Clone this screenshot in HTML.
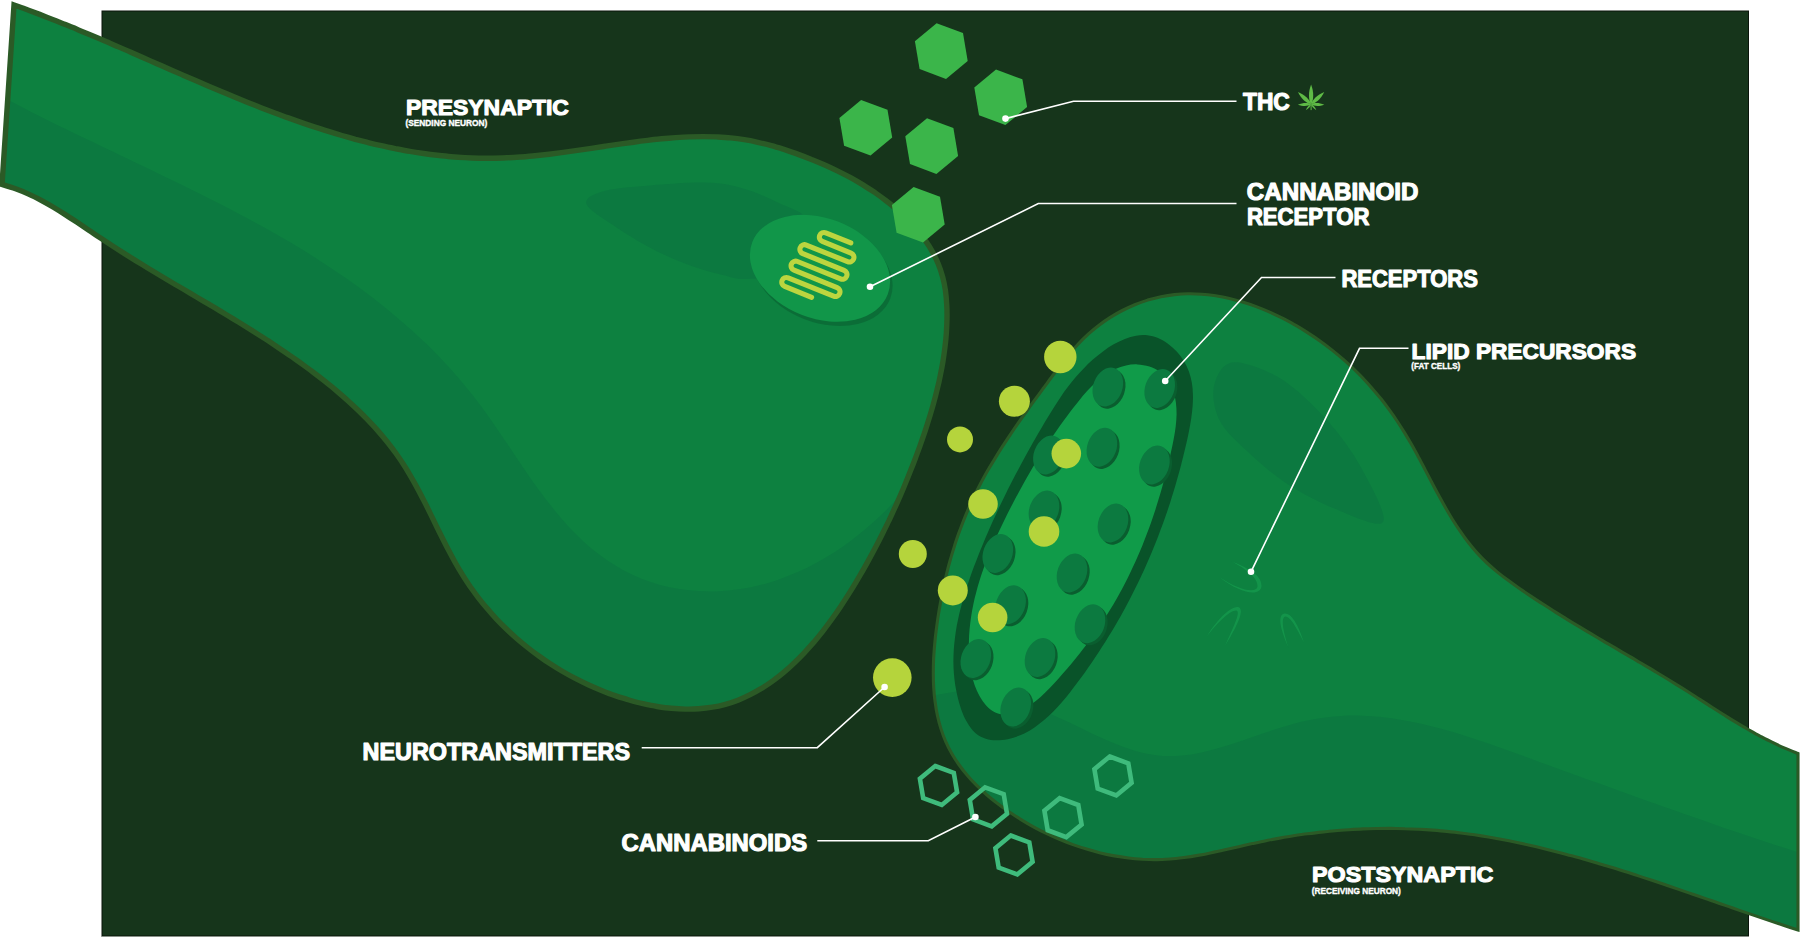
<!DOCTYPE html><html><head><meta charset="utf-8"><title>Synapse</title><style>html,body{margin:0;padding:0;background:#fff;overflow:hidden}svg{display:block}text{font-family:"Liberation Sans",sans-serif;font-weight:bold;fill:#fff}</style></head><body>
<svg width="1800" height="937" viewBox="0 0 1800 937">
<defs><clipPath id="cpre"><path d="M14.0,5.0C16.1,5.8 22.6,8.0 26.8,9.6C31.1,11.2 35.4,12.8 39.7,14.4C44.0,16.1 48.3,17.7 52.6,19.4C56.9,21.1 61.2,22.8 65.5,24.6C69.8,26.3 74.1,28.1 78.4,29.9C82.7,31.6 87.0,33.5 91.3,35.3C95.7,37.1 100.0,38.9 104.3,40.8C108.6,42.6 112.9,44.5 117.3,46.4C121.6,48.3 125.9,50.2 130.3,52.0C134.6,53.9 138.9,55.8 143.3,57.8C147.6,59.7 152.0,61.6 156.3,63.5C160.7,65.4 165.0,67.3 169.4,69.2C173.7,71.1 178.1,73.0 182.5,74.9C186.8,76.8 191.2,78.7 195.6,80.6C200.0,82.5 204.4,84.4 208.7,86.3C213.1,88.1 217.5,90.0 221.9,91.8C226.3,93.7 230.7,95.5 235.1,97.3C239.5,99.1 243.9,100.9 248.4,102.7C252.8,104.4 257.2,106.2 261.6,107.9C266.1,109.6 270.5,111.3 274.9,113.0C279.4,114.6 283.8,116.3 288.3,117.9C292.7,119.5 297.2,121.1 301.6,122.6C306.1,124.2 310.5,125.7 315.0,127.1C319.5,128.6 324.0,130.0 328.5,131.4C332.9,132.8 337.4,134.2 341.9,135.5C346.4,136.8 350.9,138.0 355.4,139.3C360.0,140.5 364.5,141.6 369.0,142.8C373.5,143.9 378.0,144.9 382.6,145.9C387.1,147.0 391.7,147.9 396.2,148.8C400.8,149.7 405.3,150.6 409.9,151.3C414.5,152.1 419.0,152.8 423.6,153.5C428.2,154.2 432.8,154.8 437.4,155.3C442.0,155.8 446.6,156.3 451.2,156.7C455.8,157.1 460.4,157.4 465.0,157.6C469.7,157.9 474.3,158.1 478.9,158.2C483.6,158.3 488.2,158.3 492.9,158.2C497.5,158.2 502.2,158.0 506.9,157.8C511.6,157.6 516.2,157.3 520.9,157.0C525.6,156.6 530.3,156.2 535.0,155.7C539.7,155.2 544.4,154.7 549.1,154.2C553.8,153.6 558.5,153.0 563.2,152.4C567.9,151.7 572.6,151.1 577.3,150.4C582.0,149.7 586.7,149.0 591.4,148.3C596.1,147.6 600.8,146.9 605.5,146.2C610.2,145.5 614.9,144.8 619.6,144.1C624.3,143.5 629.0,142.8 633.6,142.2C638.3,141.5 643.0,140.9 647.6,140.4C652.3,139.8 656.9,139.3 661.6,138.8C666.2,138.4 670.9,138.0 675.5,137.6C680.1,137.3 684.7,137.0 689.3,136.9C693.9,136.7 698.5,136.6 703.1,136.6C707.7,136.6 712.3,136.7 716.9,136.9C721.4,137.2 726.0,137.5 730.6,137.9C735.1,138.4 739.7,139.0 744.2,139.7C748.7,140.4 753.2,141.3 757.8,142.3C762.3,143.3 766.8,144.4 771.3,145.7C775.8,146.9 780.2,148.3 784.7,149.7C789.2,151.2 793.7,152.7 798.2,154.4C802.6,156.0 807.1,157.7 811.5,159.5C816.0,161.2 820.4,163.1 824.8,165.0C829.2,167.0 833.5,169.0 837.8,171.1C842.1,173.2 846.4,175.4 850.6,177.7C854.8,180.0 858.9,182.4 863.0,184.9C867.0,187.4 871.0,190.0 875.0,192.6C878.9,195.3 882.7,198.1 886.4,201.0C890.2,203.8 893.8,206.8 897.3,209.9C900.9,213.0 904.3,216.1 907.6,219.4C910.8,222.7 914.0,226.1 916.9,229.6C919.9,233.1 922.7,236.7 925.3,240.4C927.9,244.1 930.3,247.9 932.5,251.9C934.6,255.8 936.6,259.8 938.3,264.0C940.0,268.1 941.4,272.4 942.6,276.8C943.8,281.1 944.7,285.6 945.4,290.2C946.0,294.8 946.5,299.4 946.7,304.1C947.0,308.8 947.1,313.5 947.0,318.3C946.9,323.0 946.7,327.8 946.4,332.6C946.1,337.3 945.6,342.1 945.0,346.9C944.4,351.6 943.8,356.4 943.0,361.2C942.2,365.9 941.3,370.7 940.3,375.4C939.4,380.2 938.3,384.9 937.1,389.6C936.0,394.3 934.8,398.9 933.5,403.6C932.2,408.2 930.9,412.9 929.4,417.5C928.0,422.1 926.6,426.6 925.1,431.1C923.6,435.6 922.0,440.1 920.4,444.6C918.9,449.0 917.2,453.4 915.6,457.7C914.0,462.1 912.3,466.4 910.6,470.6C909.0,474.8 907.3,479.0 905.5,483.2C903.8,487.4 902.1,491.5 900.3,495.6C898.5,499.7 896.7,503.8 894.8,507.9C893.0,511.9 891.1,516.0 889.2,520.1C887.2,524.1 885.3,528.2 883.2,532.2C881.2,536.3 879.1,540.4 877.0,544.5C874.8,548.6 872.7,552.7 870.4,556.9C868.2,561.0 865.9,565.2 863.5,569.4C861.1,573.5 858.7,577.7 856.2,581.9C853.7,586.1 851.1,590.3 848.5,594.4C845.9,598.5 843.2,602.7 840.5,606.7C837.8,610.8 834.9,614.9 832.1,618.8C829.2,622.8 826.3,626.7 823.3,630.6C820.3,634.4 817.2,638.2 814.1,641.9C810.9,645.5 807.7,649.1 804.5,652.6C801.2,656.1 797.8,659.5 794.4,662.7C791.0,666.0 787.6,669.1 784.0,672.1C780.5,675.1 776.8,677.9 773.2,680.6C769.5,683.3 765.7,685.8 761.9,688.2C758.0,690.5 754.1,692.7 750.2,694.7C746.2,696.7 742.1,698.6 738.0,700.2C733.9,701.8 729.7,703.2 725.4,704.3C721.1,705.5 716.8,706.5 712.4,707.2C707.9,707.9 703.5,708.4 698.9,708.8C694.4,709.1 689.8,709.2 685.2,709.1C680.6,709.0 675.9,708.7 671.2,708.3C666.5,707.9 661.8,707.2 657.1,706.5C652.4,705.7 647.7,704.7 643.0,703.7C638.3,702.6 633.6,701.3 629.0,700.0C624.3,698.6 619.7,697.1 615.1,695.6C610.5,694.0 606.0,692.2 601.5,690.4C597.0,688.6 592.6,686.7 588.2,684.7C583.8,682.7 579.5,680.6 575.3,678.4C571.0,676.2 566.8,673.9 562.7,671.5C558.6,669.1 554.6,666.6 550.6,664.0C546.6,661.5 542.7,658.8 538.9,656.0C535.0,653.3 531.3,650.5 527.6,647.5C523.9,644.6 520.3,641.6 516.7,638.5C513.2,635.4 509.8,632.3 506.4,629.0C503.0,625.8 499.7,622.5 496.5,619.1C493.3,615.7 490.2,612.2 487.2,608.6C484.2,605.1 481.2,601.4 478.4,597.8C475.6,594.1 472.8,590.3 470.1,586.5C467.5,582.6 464.9,578.7 462.5,574.8C460.0,570.8 457.6,566.8 455.3,562.7C453.0,558.6 450.8,554.5 448.6,550.3C446.4,546.2 444.3,542.0 442.2,537.8C440.1,533.6 438.0,529.3 435.9,525.1C433.9,520.9 431.8,516.6 429.7,512.4C427.7,508.2 425.6,504.0 423.4,499.8C421.3,495.6 419.1,491.5 416.9,487.4C414.7,483.2 412.4,479.2 410.0,475.1C407.7,471.1 405.3,467.2 402.7,463.3C400.2,459.4 397.5,455.6 394.8,451.8C392.0,448.1 389.2,444.4 386.3,440.8C383.4,437.2 380.4,433.6 377.3,430.1C374.2,426.7 371.0,423.2 367.8,419.9C364.5,416.5 361.2,413.2 357.9,410.0C354.5,406.7 351.0,403.5 347.6,400.4C344.1,397.3 340.5,394.2 336.9,391.1C333.3,388.1 329.7,385.1 326.0,382.2C322.3,379.2 318.6,376.3 314.8,373.5C311.1,370.6 307.3,367.8 303.5,365.1C299.7,362.3 295.8,359.6 292.0,356.9C288.1,354.2 284.2,351.5 280.3,348.9C276.4,346.3 272.5,343.7 268.6,341.1C264.7,338.5 260.7,336.0 256.7,333.5C252.8,331.0 248.8,328.5 244.8,326.0C240.8,323.5 236.8,321.1 232.8,318.6C228.8,316.2 224.8,313.8 220.8,311.4C216.7,308.9 212.7,306.5 208.7,304.2C204.6,301.8 200.6,299.4 196.5,297.0C192.5,294.6 188.4,292.2 184.4,289.8C180.4,287.4 176.3,285.1 172.3,282.7C168.2,280.3 164.2,277.9 160.2,275.5C156.1,273.0 152.1,270.6 148.1,268.2C144.1,265.8 140.1,263.3 136.1,260.9C132.1,258.4 128.1,255.9 124.1,253.4C120.1,250.9 116.2,248.4 112.2,245.8C108.3,243.3 104.4,240.7 100.5,238.1C96.5,235.5 92.7,232.8 88.8,230.2C84.9,227.6 81.0,224.9 77.1,222.3C73.2,219.7 69.3,217.1 65.3,214.6C61.4,212.1 57.4,209.6 53.4,207.2C49.4,204.8 45.3,202.5 41.2,200.3C37.0,198.1 32.9,196.0 28.6,194.1C24.3,192.2 20.0,190.4 15.6,188.8C11.1,187.2 4.3,185.2 2.0,184.5Z"/></clipPath><clipPath id="cpost"><path d="M1798.0,930.0C1795.8,929.3 1789.3,927.2 1784.9,925.7C1780.5,924.3 1776.1,922.8 1771.7,921.4C1767.3,919.9 1762.9,918.4 1758.5,916.9C1754.1,915.4 1749.7,913.9 1745.3,912.4C1740.9,910.9 1736.5,909.3 1732.1,907.8C1727.6,906.3 1723.2,904.7 1718.8,903.2C1714.3,901.7 1709.9,900.1 1705.5,898.6C1701.0,897.0 1696.6,895.5 1692.1,894.0C1687.7,892.4 1683.2,890.9 1678.7,889.4C1674.3,887.9 1669.8,886.3 1665.3,884.8C1660.9,883.3 1656.4,881.8 1651.9,880.3C1647.4,878.8 1642.9,877.4 1638.4,875.9C1633.9,874.4 1629.4,873.0 1624.9,871.6C1620.4,870.1 1615.9,868.7 1611.4,867.3C1606.9,866.0 1602.4,864.6 1597.8,863.2C1593.3,861.9 1588.8,860.6 1584.3,859.3C1579.7,858.0 1575.2,856.7 1570.6,855.5C1566.1,854.3 1561.5,853.0 1557.0,851.9C1552.4,850.7 1547.9,849.6 1543.3,848.4C1538.7,847.3 1534.2,846.3 1529.6,845.2C1525.0,844.2 1520.4,843.2 1515.9,842.2C1511.3,841.3 1506.7,840.4 1502.1,839.5C1497.5,838.6 1492.9,837.8 1488.3,837.0C1483.7,836.3 1479.1,835.5 1474.5,834.8C1469.9,834.2 1465.2,833.5 1460.6,833.0C1456.0,832.4 1451.4,831.9 1446.7,831.4C1442.1,830.9 1437.5,830.5 1432.8,830.1C1428.2,829.8 1423.5,829.5 1418.9,829.2C1414.2,829.0 1409.6,828.8 1404.9,828.7C1400.3,828.5 1395.6,828.5 1391.0,828.4C1386.3,828.4 1381.7,828.4 1377.0,828.5C1372.4,828.6 1367.7,828.7 1363.1,828.9C1358.4,829.1 1353.7,829.4 1349.1,829.7C1344.4,830.0 1339.8,830.3 1335.2,830.7C1330.5,831.1 1325.9,831.6 1321.3,832.1C1316.6,832.6 1312.0,833.2 1307.4,833.8C1302.7,834.4 1298.1,835.1 1293.5,835.8C1288.9,836.5 1284.3,837.3 1279.7,838.1C1275.1,838.9 1270.6,839.8 1266.0,840.7C1261.4,841.6 1256.9,842.6 1252.3,843.6C1247.7,844.6 1243.2,845.6 1238.7,846.7C1234.1,847.7 1229.6,848.8 1225.0,849.8C1220.5,850.8 1216.0,851.8 1211.4,852.7C1206.9,853.7 1202.3,854.6 1197.8,855.4C1193.2,856.2 1188.7,856.9 1184.1,857.5C1179.5,858.1 1174.9,858.7 1170.3,859.0C1165.7,859.3 1161.1,859.6 1156.4,859.6C1151.8,859.7 1147.1,859.5 1142.4,859.3C1137.8,859.0 1133.1,858.6 1128.4,858.0C1123.7,857.4 1119.0,856.7 1114.4,855.9C1109.7,855.0 1105.1,854.0 1100.4,852.9C1095.8,851.8 1091.2,850.5 1086.6,849.1C1082.0,847.7 1077.4,846.2 1072.9,844.6C1068.4,843.0 1063.9,841.2 1059.4,839.3C1055.0,837.5 1050.6,835.5 1046.3,833.4C1041.9,831.3 1037.6,829.1 1033.4,826.8C1029.2,824.5 1025.1,822.1 1021.0,819.6C1016.9,817.1 1012.9,814.5 1009.0,811.8C1005.0,809.2 1001.2,806.4 997.5,803.5C993.7,800.7 990.1,797.7 986.6,794.7C983.1,791.6 979.7,788.5 976.4,785.2C973.2,782.0 970.1,778.7 967.2,775.2C964.2,771.8 961.4,768.2 958.8,764.5C956.2,760.9 953.8,757.1 951.6,753.2C949.4,749.4 947.4,745.4 945.6,741.3C943.8,737.2 942.3,733.0 940.9,728.6C939.5,724.3 938.4,719.9 937.4,715.4C936.4,710.9 935.7,706.3 935.1,701.7C934.4,697.1 934.0,692.3 933.7,687.6C933.4,682.9 933.3,678.0 933.3,673.2C933.3,668.4 933.4,663.5 933.6,658.7C933.9,653.8 934.2,648.9 934.7,644.1C935.1,639.2 935.6,634.4 936.3,629.5C936.9,624.7 937.6,619.9 938.3,615.1C939.1,610.3 939.9,605.6 940.8,600.9C941.6,596.2 942.6,591.6 943.6,587.0C944.6,582.4 945.6,577.8 946.7,573.3C947.8,568.8 949.0,564.3 950.3,559.8C951.5,555.4 952.9,551.0 954.3,546.6C955.6,542.2 957.1,537.9 958.6,533.6C960.2,529.3 961.8,525.0 963.5,520.7C965.2,516.5 966.9,512.3 968.7,508.1C970.6,503.9 972.5,499.7 974.5,495.6C976.5,491.5 978.6,487.4 980.7,483.3C982.9,479.2 985.1,475.1 987.4,471.1C989.7,467.1 992.1,463.1 994.6,459.1C997.0,455.1 999.5,451.1 1002.0,447.2C1004.6,443.2 1007.2,439.3 1009.8,435.4C1012.4,431.4 1015.1,427.5 1017.8,423.6C1020.5,419.7 1023.3,415.8 1026.1,412.0C1028.8,408.1 1031.6,404.2 1034.4,400.4C1037.3,396.5 1040.1,392.7 1042.9,388.8C1045.8,385.0 1048.6,381.1 1051.5,377.3C1054.3,373.5 1057.2,369.6 1060.1,365.8C1063.0,362.1 1065.9,358.3 1068.9,354.7C1071.9,351.0 1075.0,347.4 1078.2,344.0C1081.4,340.6 1084.8,337.3 1088.2,334.2C1091.7,331.1 1095.3,328.1 1099.0,325.3C1102.6,322.5 1106.4,319.8 1110.3,317.4C1114.2,314.9 1118.2,312.6 1122.3,310.5C1126.4,308.4 1130.5,306.5 1134.8,304.7C1139.0,303.0 1143.3,301.5 1147.6,300.1C1152.0,298.8 1156.4,297.6 1160.9,296.7C1165.3,295.8 1169.8,295.1 1174.4,294.6C1178.9,294.1 1183.4,293.8 1188.0,293.8C1192.6,293.7 1197.2,293.9 1201.8,294.2C1206.4,294.5 1211.1,295.1 1215.7,295.8C1220.3,296.5 1224.9,297.5 1229.5,298.5C1234.1,299.6 1238.7,300.9 1243.3,302.3C1247.8,303.6 1252.4,305.2 1256.9,306.9C1261.4,308.6 1265.9,310.5 1270.3,312.4C1274.7,314.4 1279.1,316.5 1283.5,318.7C1287.8,321.0 1292.1,323.3 1296.3,325.7C1300.5,328.2 1304.7,330.7 1308.7,333.4C1312.8,336.0 1316.8,338.7 1320.7,341.5C1324.6,344.3 1328.4,347.2 1332.1,350.1C1335.9,353.1 1339.5,356.1 1343.0,359.1C1346.5,362.2 1350.0,365.3 1353.3,368.5C1356.6,371.7 1359.9,374.9 1363.0,378.2C1366.2,381.6 1369.2,384.9 1372.2,388.4C1375.2,391.8 1378.1,395.3 1381.0,398.8C1383.8,402.4 1386.5,406.0 1389.2,409.7C1391.9,413.4 1394.5,417.1 1397.1,421.0C1399.6,424.8 1402.1,428.7 1404.5,432.6C1406.9,436.5 1409.3,440.6 1411.6,444.6C1413.9,448.7 1416.2,452.8 1418.4,457.0C1420.7,461.1 1422.9,465.4 1425.1,469.6C1427.3,473.8 1429.5,478.0 1431.7,482.2C1433.9,486.4 1436.1,490.6 1438.4,494.8C1440.7,499.0 1442.9,503.2 1445.3,507.3C1447.6,511.4 1450.0,515.5 1452.5,519.5C1455.0,523.5 1457.5,527.4 1460.2,531.2C1462.8,535.1 1465.5,538.8 1468.4,542.5C1471.2,546.1 1474.2,549.7 1477.3,553.1C1480.4,556.5 1483.6,559.8 1487.0,563.0C1490.3,566.1 1493.8,569.1 1497.4,572.1C1501.0,575.0 1504.7,577.8 1508.5,580.6C1512.2,583.4 1516.0,586.1 1519.9,588.7C1523.7,591.4 1527.6,594.0 1531.5,596.6C1535.4,599.2 1539.3,601.8 1543.3,604.3C1547.2,606.9 1551.2,609.4 1555.1,611.9C1559.1,614.4 1563.1,616.9 1567.1,619.3C1571.1,621.8 1575.1,624.2 1579.2,626.6C1583.2,629.1 1587.2,631.5 1591.3,633.9C1595.3,636.3 1599.4,638.7 1603.4,641.1C1607.5,643.5 1611.6,645.8 1615.6,648.2C1619.7,650.6 1623.7,653.0 1627.8,655.4C1631.9,657.7 1635.9,660.1 1640.0,662.5C1644.0,664.9 1648.1,667.3 1652.1,669.7C1656.1,672.1 1660.1,674.6 1664.2,677.0C1668.2,679.4 1672.2,681.9 1676.1,684.4C1680.1,686.8 1684.1,689.3 1688.0,691.8C1692.0,694.3 1695.9,696.9 1699.8,699.4C1703.8,701.9 1707.7,704.5 1711.6,707.0C1715.5,709.5 1719.5,712.0 1723.4,714.5C1727.4,717.0 1731.3,719.5 1735.3,721.9C1739.3,724.3 1743.3,726.7 1747.3,729.0C1751.4,731.3 1755.4,733.6 1759.5,735.8C1763.7,738.0 1767.8,740.2 1772.0,742.2C1776.2,744.3 1780.5,746.3 1784.8,748.1C1789.2,750.0 1795.8,752.6 1798.0,753.5Z"/></clipPath></defs>
<rect width="1800" height="937" fill="#fff"/>
<rect x="102" y="11" width="1646.5" height="925" fill="#16351b" stroke="#0a140b" stroke-width="1"/>
<rect x="101" y="936.4" width="1648" height="0.6" fill="#8a958b"/>
<path d="M14.0,5.0C16.1,5.8 22.6,8.0 26.8,9.6C31.1,11.2 35.4,12.8 39.7,14.4C44.0,16.1 48.3,17.7 52.6,19.4C56.9,21.1 61.2,22.8 65.5,24.6C69.8,26.3 74.1,28.1 78.4,29.9C82.7,31.6 87.0,33.5 91.3,35.3C95.7,37.1 100.0,38.9 104.3,40.8C108.6,42.6 112.9,44.5 117.3,46.4C121.6,48.3 125.9,50.2 130.3,52.0C134.6,53.9 138.9,55.8 143.3,57.8C147.6,59.7 152.0,61.6 156.3,63.5C160.7,65.4 165.0,67.3 169.4,69.2C173.7,71.1 178.1,73.0 182.5,74.9C186.8,76.8 191.2,78.7 195.6,80.6C200.0,82.5 204.4,84.4 208.7,86.3C213.1,88.1 217.5,90.0 221.9,91.8C226.3,93.7 230.7,95.5 235.1,97.3C239.5,99.1 243.9,100.9 248.4,102.7C252.8,104.4 257.2,106.2 261.6,107.9C266.1,109.6 270.5,111.3 274.9,113.0C279.4,114.6 283.8,116.3 288.3,117.9C292.7,119.5 297.2,121.1 301.6,122.6C306.1,124.2 310.5,125.7 315.0,127.1C319.5,128.6 324.0,130.0 328.5,131.4C332.9,132.8 337.4,134.2 341.9,135.5C346.4,136.8 350.9,138.0 355.4,139.3C360.0,140.5 364.5,141.6 369.0,142.8C373.5,143.9 378.0,144.9 382.6,145.9C387.1,147.0 391.7,147.9 396.2,148.8C400.8,149.7 405.3,150.6 409.9,151.3C414.5,152.1 419.0,152.8 423.6,153.5C428.2,154.2 432.8,154.8 437.4,155.3C442.0,155.8 446.6,156.3 451.2,156.7C455.8,157.1 460.4,157.4 465.0,157.6C469.7,157.9 474.3,158.1 478.9,158.2C483.6,158.3 488.2,158.3 492.9,158.2C497.5,158.2 502.2,158.0 506.9,157.8C511.6,157.6 516.2,157.3 520.9,157.0C525.6,156.6 530.3,156.2 535.0,155.7C539.7,155.2 544.4,154.7 549.1,154.2C553.8,153.6 558.5,153.0 563.2,152.4C567.9,151.7 572.6,151.1 577.3,150.4C582.0,149.7 586.7,149.0 591.4,148.3C596.1,147.6 600.8,146.9 605.5,146.2C610.2,145.5 614.9,144.8 619.6,144.1C624.3,143.5 629.0,142.8 633.6,142.2C638.3,141.5 643.0,140.9 647.6,140.4C652.3,139.8 656.9,139.3 661.6,138.8C666.2,138.4 670.9,138.0 675.5,137.6C680.1,137.3 684.7,137.0 689.3,136.9C693.9,136.7 698.5,136.6 703.1,136.6C707.7,136.6 712.3,136.7 716.9,136.9C721.4,137.2 726.0,137.5 730.6,137.9C735.1,138.4 739.7,139.0 744.2,139.7C748.7,140.4 753.2,141.3 757.8,142.3C762.3,143.3 766.8,144.4 771.3,145.7C775.8,146.9 780.2,148.3 784.7,149.7C789.2,151.2 793.7,152.7 798.2,154.4C802.6,156.0 807.1,157.7 811.5,159.5C816.0,161.2 820.4,163.1 824.8,165.0C829.2,167.0 833.5,169.0 837.8,171.1C842.1,173.2 846.4,175.4 850.6,177.7C854.8,180.0 858.9,182.4 863.0,184.9C867.0,187.4 871.0,190.0 875.0,192.6C878.9,195.3 882.7,198.1 886.4,201.0C890.2,203.8 893.8,206.8 897.3,209.9C900.9,213.0 904.3,216.1 907.6,219.4C910.8,222.7 914.0,226.1 916.9,229.6C919.9,233.1 922.7,236.7 925.3,240.4C927.9,244.1 930.3,247.9 932.5,251.9C934.6,255.8 936.6,259.8 938.3,264.0C940.0,268.1 941.4,272.4 942.6,276.8C943.8,281.1 944.7,285.6 945.4,290.2C946.0,294.8 946.5,299.4 946.7,304.1C947.0,308.8 947.1,313.5 947.0,318.3C946.9,323.0 946.7,327.8 946.4,332.6C946.1,337.3 945.6,342.1 945.0,346.9C944.4,351.6 943.8,356.4 943.0,361.2C942.2,365.9 941.3,370.7 940.3,375.4C939.4,380.2 938.3,384.9 937.1,389.6C936.0,394.3 934.8,398.9 933.5,403.6C932.2,408.2 930.9,412.9 929.4,417.5C928.0,422.1 926.6,426.6 925.1,431.1C923.6,435.6 922.0,440.1 920.4,444.6C918.9,449.0 917.2,453.4 915.6,457.7C914.0,462.1 912.3,466.4 910.6,470.6C909.0,474.8 907.3,479.0 905.5,483.2C903.8,487.4 902.1,491.5 900.3,495.6C898.5,499.7 896.7,503.8 894.8,507.9C893.0,511.9 891.1,516.0 889.2,520.1C887.2,524.1 885.3,528.2 883.2,532.2C881.2,536.3 879.1,540.4 877.0,544.5C874.8,548.6 872.7,552.7 870.4,556.9C868.2,561.0 865.9,565.2 863.5,569.4C861.1,573.5 858.7,577.7 856.2,581.9C853.7,586.1 851.1,590.3 848.5,594.4C845.9,598.5 843.2,602.7 840.5,606.7C837.8,610.8 834.9,614.9 832.1,618.8C829.2,622.8 826.3,626.7 823.3,630.6C820.3,634.4 817.2,638.2 814.1,641.9C810.9,645.5 807.7,649.1 804.5,652.6C801.2,656.1 797.8,659.5 794.4,662.7C791.0,666.0 787.6,669.1 784.0,672.1C780.5,675.1 776.8,677.9 773.2,680.6C769.5,683.3 765.7,685.8 761.9,688.2C758.0,690.5 754.1,692.7 750.2,694.7C746.2,696.7 742.1,698.6 738.0,700.2C733.9,701.8 729.7,703.2 725.4,704.3C721.1,705.5 716.8,706.5 712.4,707.2C707.9,707.9 703.5,708.4 698.9,708.8C694.4,709.1 689.8,709.2 685.2,709.1C680.6,709.0 675.9,708.7 671.2,708.3C666.5,707.9 661.8,707.2 657.1,706.5C652.4,705.7 647.7,704.7 643.0,703.7C638.3,702.6 633.6,701.3 629.0,700.0C624.3,698.6 619.7,697.1 615.1,695.6C610.5,694.0 606.0,692.2 601.5,690.4C597.0,688.6 592.6,686.7 588.2,684.7C583.8,682.7 579.5,680.6 575.3,678.4C571.0,676.2 566.8,673.9 562.7,671.5C558.6,669.1 554.6,666.6 550.6,664.0C546.6,661.5 542.7,658.8 538.9,656.0C535.0,653.3 531.3,650.5 527.6,647.5C523.9,644.6 520.3,641.6 516.7,638.5C513.2,635.4 509.8,632.3 506.4,629.0C503.0,625.8 499.7,622.5 496.5,619.1C493.3,615.7 490.2,612.2 487.2,608.6C484.2,605.1 481.2,601.4 478.4,597.8C475.6,594.1 472.8,590.3 470.1,586.5C467.5,582.6 464.9,578.7 462.5,574.8C460.0,570.8 457.6,566.8 455.3,562.7C453.0,558.6 450.8,554.5 448.6,550.3C446.4,546.2 444.3,542.0 442.2,537.8C440.1,533.6 438.0,529.3 435.9,525.1C433.9,520.9 431.8,516.6 429.7,512.4C427.7,508.2 425.6,504.0 423.4,499.8C421.3,495.6 419.1,491.5 416.9,487.4C414.7,483.2 412.4,479.2 410.0,475.1C407.7,471.1 405.3,467.2 402.7,463.3C400.2,459.4 397.5,455.6 394.8,451.8C392.0,448.1 389.2,444.4 386.3,440.8C383.4,437.2 380.4,433.6 377.3,430.1C374.2,426.7 371.0,423.2 367.8,419.9C364.5,416.5 361.2,413.2 357.9,410.0C354.5,406.7 351.0,403.5 347.6,400.4C344.1,397.3 340.5,394.2 336.9,391.1C333.3,388.1 329.7,385.1 326.0,382.2C322.3,379.2 318.6,376.3 314.8,373.5C311.1,370.6 307.3,367.8 303.5,365.1C299.7,362.3 295.8,359.6 292.0,356.9C288.1,354.2 284.2,351.5 280.3,348.9C276.4,346.3 272.5,343.7 268.6,341.1C264.7,338.5 260.7,336.0 256.7,333.5C252.8,331.0 248.8,328.5 244.8,326.0C240.8,323.5 236.8,321.1 232.8,318.6C228.8,316.2 224.8,313.8 220.8,311.4C216.7,308.9 212.7,306.5 208.7,304.2C204.6,301.8 200.6,299.4 196.5,297.0C192.5,294.6 188.4,292.2 184.4,289.8C180.4,287.4 176.3,285.1 172.3,282.7C168.2,280.3 164.2,277.9 160.2,275.5C156.1,273.0 152.1,270.6 148.1,268.2C144.1,265.8 140.1,263.3 136.1,260.9C132.1,258.4 128.1,255.9 124.1,253.4C120.1,250.9 116.2,248.4 112.2,245.8C108.3,243.3 104.4,240.7 100.5,238.1C96.5,235.5 92.7,232.8 88.8,230.2C84.9,227.6 81.0,224.9 77.1,222.3C73.2,219.7 69.3,217.1 65.3,214.6C61.4,212.1 57.4,209.6 53.4,207.2C49.4,204.8 45.3,202.5 41.2,200.3C37.0,198.1 32.9,196.0 28.6,194.1C24.3,192.2 20.0,190.4 15.6,188.8C11.1,187.2 4.3,185.2 2.0,184.5Z" fill="#0d8140"/>
<g clip-path="url(#cpre)"><path d="M-5.0,93.0C-2.1,94.6 6.7,99.2 12.5,102.3C18.4,105.4 24.3,108.4 30.2,111.5C36.2,114.5 42.1,117.5 48.1,120.4C54.1,123.4 60.1,126.4 66.1,129.3C72.2,132.3 78.2,135.2 84.2,138.1C90.3,141.0 96.4,143.9 102.4,146.8C108.5,149.7 114.6,152.6 120.7,155.5C126.8,158.4 132.9,161.3 138.9,164.2C145.0,167.1 151.1,170.0 157.2,172.9C163.3,175.9 169.4,178.8 175.4,181.8C181.5,184.7 187.6,187.7 193.6,190.7C199.7,193.7 205.7,196.7 211.7,199.8C217.7,202.8 223.7,205.9 229.7,209.0C235.7,212.1 241.6,215.2 247.6,218.4C253.5,221.6 259.4,224.8 265.2,228.1C271.1,231.4 276.9,234.7 282.7,238.1C288.5,241.4 294.3,244.8 300.0,248.3C305.7,251.8 311.4,255.3 317.1,258.9C322.7,262.5 328.3,266.1 333.8,269.9C339.3,273.6 344.8,277.4 350.3,281.2C355.7,285.1 361.1,289.0 366.4,293.0C371.7,297.0 377.0,301.0 382.2,305.2C387.4,309.3 392.5,313.6 397.5,317.9C402.6,322.2 407.6,326.5 412.5,331.0C417.4,335.5 422.2,340.0 427.0,344.6C431.7,349.3 436.4,354.0 441.0,358.8C445.6,363.6 450.1,368.5 454.5,373.5C458.9,378.5 463.2,383.6 467.4,388.8C471.7,394.0 475.8,399.3 479.8,404.6C483.9,410.0 487.8,415.5 491.6,421.0C495.5,426.6 499.3,432.2 503.1,437.8C506.9,443.4 510.7,449.1 514.5,454.8C518.3,460.4 522.1,466.1 526.0,471.8C529.8,477.4 533.7,483.0 537.8,488.5C541.8,494.0 545.9,499.5 550.1,504.8C554.3,510.2 558.6,515.4 563.1,520.4C567.5,525.5 572.1,530.4 576.8,535.1C581.5,539.8 586.4,544.3 591.4,548.5C596.5,552.7 601.7,556.7 607.1,560.3C612.5,564.0 618.0,567.4 623.8,570.5C629.5,573.5 635.4,576.3 641.5,578.7C647.5,581.1 653.7,583.2 660.0,584.9C666.3,586.6 672.8,588.0 679.3,589.0C685.7,590.0 692.3,590.7 698.9,591.1C705.5,591.4 712.2,591.5 718.9,591.2C725.5,590.9 732.2,590.2 738.8,589.3C745.4,588.4 752.0,587.1 758.4,585.5C764.9,584.0 771.4,582.1 777.7,579.9C784.1,577.8 790.3,575.3 796.5,572.6C802.7,570.0 808.8,567.0 814.8,563.8C820.7,560.6 826.6,557.1 832.4,553.5C838.2,549.8 843.8,545.9 849.3,541.9C854.9,537.8 860.3,533.5 865.5,529.1C870.8,524.7 875.9,520.0 880.9,515.3C885.9,510.5 890.7,505.6 895.4,500.5C900.1,495.5 904.6,490.3 909.0,485.0C913.3,479.7 917.5,474.3 921.5,468.8C925.5,463.3 929.3,457.7 932.9,452.1C936.5,446.4 940.0,440.7 943.2,434.9C946.4,429.2 949.4,423.4 952.2,417.5C955.0,411.7 958.7,402.9 960.0,400.0L960,760L-20,760Z" fill="#0c7940"/><path d="M586.3,203.5C584.8,197.6 594.6,193.8 605.3,190.8C616.0,187.8 634.1,186.8 650.7,185.4C667.3,184.0 689.9,182.2 705.0,182.6C720.1,183.0 729.3,184.7 741.4,188.0C753.5,191.3 766.3,196.9 777.7,202.6C789.1,208.3 803.0,210.8 810.0,222.0C817.0,233.2 829.9,260.5 820.0,270.0C810.1,279.5 766.7,278.0 750.5,278.8C734.3,279.6 733.6,277.4 723.0,275.0C712.4,272.6 699.0,268.8 687.0,264.3C675.0,259.8 662.8,254.4 650.7,248.0C638.6,241.6 625.1,233.4 614.4,226.0C603.7,218.6 587.8,209.4 586.3,203.5Z" fill="#0c7940"/></g>
<path d="M14.0,5.0C16.1,5.8 22.6,8.0 26.8,9.6C31.1,11.2 35.4,12.8 39.7,14.4C44.0,16.1 48.3,17.7 52.6,19.4C56.9,21.1 61.2,22.8 65.5,24.6C69.8,26.3 74.1,28.1 78.4,29.9C82.7,31.6 87.0,33.5 91.3,35.3C95.7,37.1 100.0,38.9 104.3,40.8C108.6,42.6 112.9,44.5 117.3,46.4C121.6,48.3 125.9,50.2 130.3,52.0C134.6,53.9 138.9,55.8 143.3,57.8C147.6,59.7 152.0,61.6 156.3,63.5C160.7,65.4 165.0,67.3 169.4,69.2C173.7,71.1 178.1,73.0 182.5,74.9C186.8,76.8 191.2,78.7 195.6,80.6C200.0,82.5 204.4,84.4 208.7,86.3C213.1,88.1 217.5,90.0 221.9,91.8C226.3,93.7 230.7,95.5 235.1,97.3C239.5,99.1 243.9,100.9 248.4,102.7C252.8,104.4 257.2,106.2 261.6,107.9C266.1,109.6 270.5,111.3 274.9,113.0C279.4,114.6 283.8,116.3 288.3,117.9C292.7,119.5 297.2,121.1 301.6,122.6C306.1,124.2 310.5,125.7 315.0,127.1C319.5,128.6 324.0,130.0 328.5,131.4C332.9,132.8 337.4,134.2 341.9,135.5C346.4,136.8 350.9,138.0 355.4,139.3C360.0,140.5 364.5,141.6 369.0,142.8C373.5,143.9 378.0,144.9 382.6,145.9C387.1,147.0 391.7,147.9 396.2,148.8C400.8,149.7 405.3,150.6 409.9,151.3C414.5,152.1 419.0,152.8 423.6,153.5C428.2,154.2 432.8,154.8 437.4,155.3C442.0,155.8 446.6,156.3 451.2,156.7C455.8,157.1 460.4,157.4 465.0,157.6C469.7,157.9 474.3,158.1 478.9,158.2C483.6,158.3 488.2,158.3 492.9,158.2C497.5,158.2 502.2,158.0 506.9,157.8C511.6,157.6 516.2,157.3 520.9,157.0C525.6,156.6 530.3,156.2 535.0,155.7C539.7,155.2 544.4,154.7 549.1,154.2C553.8,153.6 558.5,153.0 563.2,152.4C567.9,151.7 572.6,151.1 577.3,150.4C582.0,149.7 586.7,149.0 591.4,148.3C596.1,147.6 600.8,146.9 605.5,146.2C610.2,145.5 614.9,144.8 619.6,144.1C624.3,143.5 629.0,142.8 633.6,142.2C638.3,141.5 643.0,140.9 647.6,140.4C652.3,139.8 656.9,139.3 661.6,138.8C666.2,138.4 670.9,138.0 675.5,137.6C680.1,137.3 684.7,137.0 689.3,136.9C693.9,136.7 698.5,136.6 703.1,136.6C707.7,136.6 712.3,136.7 716.9,136.9C721.4,137.2 726.0,137.5 730.6,137.9C735.1,138.4 739.7,139.0 744.2,139.7C748.7,140.4 753.2,141.3 757.8,142.3C762.3,143.3 766.8,144.4 771.3,145.7C775.8,146.9 780.2,148.3 784.7,149.7C789.2,151.2 793.7,152.7 798.2,154.4C802.6,156.0 807.1,157.7 811.5,159.5C816.0,161.2 820.4,163.1 824.8,165.0C829.2,167.0 833.5,169.0 837.8,171.1C842.1,173.2 846.4,175.4 850.6,177.7C854.8,180.0 858.9,182.4 863.0,184.9C867.0,187.4 871.0,190.0 875.0,192.6C878.9,195.3 882.7,198.1 886.4,201.0C890.2,203.8 893.8,206.8 897.3,209.9C900.9,213.0 904.3,216.1 907.6,219.4C910.8,222.7 914.0,226.1 916.9,229.6C919.9,233.1 922.7,236.7 925.3,240.4C927.9,244.1 930.3,247.9 932.5,251.9C934.6,255.8 936.6,259.8 938.3,264.0C940.0,268.1 941.4,272.4 942.6,276.8C943.8,281.1 944.7,285.6 945.4,290.2C946.0,294.8 946.5,299.4 946.7,304.1C947.0,308.8 947.1,313.5 947.0,318.3C946.9,323.0 946.7,327.8 946.4,332.6C946.1,337.3 945.6,342.1 945.0,346.9C944.4,351.6 943.8,356.4 943.0,361.2C942.2,365.9 941.3,370.7 940.3,375.4C939.4,380.2 938.3,384.9 937.1,389.6C936.0,394.3 934.8,398.9 933.5,403.6C932.2,408.2 930.9,412.9 929.4,417.5C928.0,422.1 926.6,426.6 925.1,431.1C923.6,435.6 922.0,440.1 920.4,444.6C918.9,449.0 917.2,453.4 915.6,457.7C914.0,462.1 912.3,466.4 910.6,470.6C909.0,474.8 907.3,479.0 905.5,483.2C903.8,487.4 902.1,491.5 900.3,495.6C898.5,499.7 896.7,503.8 894.8,507.9C893.0,511.9 891.1,516.0 889.2,520.1C887.2,524.1 885.3,528.2 883.2,532.2C881.2,536.3 879.1,540.4 877.0,544.5C874.8,548.6 872.7,552.7 870.4,556.9C868.2,561.0 865.9,565.2 863.5,569.4C861.1,573.5 858.7,577.7 856.2,581.9C853.7,586.1 851.1,590.3 848.5,594.4C845.9,598.5 843.2,602.7 840.5,606.7C837.8,610.8 834.9,614.9 832.1,618.8C829.2,622.8 826.3,626.7 823.3,630.6C820.3,634.4 817.2,638.2 814.1,641.9C810.9,645.5 807.7,649.1 804.5,652.6C801.2,656.1 797.8,659.5 794.4,662.7C791.0,666.0 787.6,669.1 784.0,672.1C780.5,675.1 776.8,677.9 773.2,680.6C769.5,683.3 765.7,685.8 761.9,688.2C758.0,690.5 754.1,692.7 750.2,694.7C746.2,696.7 742.1,698.6 738.0,700.2C733.9,701.8 729.7,703.2 725.4,704.3C721.1,705.5 716.8,706.5 712.4,707.2C707.9,707.9 703.5,708.4 698.9,708.8C694.4,709.1 689.8,709.2 685.2,709.1C680.6,709.0 675.9,708.7 671.2,708.3C666.5,707.9 661.8,707.2 657.1,706.5C652.4,705.7 647.7,704.7 643.0,703.7C638.3,702.6 633.6,701.3 629.0,700.0C624.3,698.6 619.7,697.1 615.1,695.6C610.5,694.0 606.0,692.2 601.5,690.4C597.0,688.6 592.6,686.7 588.2,684.7C583.8,682.7 579.5,680.6 575.3,678.4C571.0,676.2 566.8,673.9 562.7,671.5C558.6,669.1 554.6,666.6 550.6,664.0C546.6,661.5 542.7,658.8 538.9,656.0C535.0,653.3 531.3,650.5 527.6,647.5C523.9,644.6 520.3,641.6 516.7,638.5C513.2,635.4 509.8,632.3 506.4,629.0C503.0,625.8 499.7,622.5 496.5,619.1C493.3,615.7 490.2,612.2 487.2,608.6C484.2,605.1 481.2,601.4 478.4,597.8C475.6,594.1 472.8,590.3 470.1,586.5C467.5,582.6 464.9,578.7 462.5,574.8C460.0,570.8 457.6,566.8 455.3,562.7C453.0,558.6 450.8,554.5 448.6,550.3C446.4,546.2 444.3,542.0 442.2,537.8C440.1,533.6 438.0,529.3 435.9,525.1C433.9,520.9 431.8,516.6 429.7,512.4C427.7,508.2 425.6,504.0 423.4,499.8C421.3,495.6 419.1,491.5 416.9,487.4C414.7,483.2 412.4,479.2 410.0,475.1C407.7,471.1 405.3,467.2 402.7,463.3C400.2,459.4 397.5,455.6 394.8,451.8C392.0,448.1 389.2,444.4 386.3,440.8C383.4,437.2 380.4,433.6 377.3,430.1C374.2,426.7 371.0,423.2 367.8,419.9C364.5,416.5 361.2,413.2 357.9,410.0C354.5,406.7 351.0,403.5 347.6,400.4C344.1,397.3 340.5,394.2 336.9,391.1C333.3,388.1 329.7,385.1 326.0,382.2C322.3,379.2 318.6,376.3 314.8,373.5C311.1,370.6 307.3,367.8 303.5,365.1C299.7,362.3 295.8,359.6 292.0,356.9C288.1,354.2 284.2,351.5 280.3,348.9C276.4,346.3 272.5,343.7 268.6,341.1C264.7,338.5 260.7,336.0 256.7,333.5C252.8,331.0 248.8,328.5 244.8,326.0C240.8,323.5 236.8,321.1 232.8,318.6C228.8,316.2 224.8,313.8 220.8,311.4C216.7,308.9 212.7,306.5 208.7,304.2C204.6,301.8 200.6,299.4 196.5,297.0C192.5,294.6 188.4,292.2 184.4,289.8C180.4,287.4 176.3,285.1 172.3,282.7C168.2,280.3 164.2,277.9 160.2,275.5C156.1,273.0 152.1,270.6 148.1,268.2C144.1,265.8 140.1,263.3 136.1,260.9C132.1,258.4 128.1,255.9 124.1,253.4C120.1,250.9 116.2,248.4 112.2,245.8C108.3,243.3 104.4,240.7 100.5,238.1C96.5,235.5 92.7,232.8 88.8,230.2C84.9,227.6 81.0,224.9 77.1,222.3C73.2,219.7 69.3,217.1 65.3,214.6C61.4,212.1 57.4,209.6 53.4,207.2C49.4,204.8 45.3,202.5 41.2,200.3C37.0,198.1 32.9,196.0 28.6,194.1C24.3,192.2 20.0,190.4 15.6,188.8C11.1,187.2 4.3,185.2 2.0,184.5Z" fill="none" stroke="#2b5a26" stroke-width="5.4" stroke-linejoin="miter"/>
<ellipse cx="822.5" cy="272.5" rx="72.6" ry="50" transform="rotate(21 822.5 272.5)" fill="#0b6d37"/>
<ellipse cx="820" cy="268.3" rx="72.6" ry="50" transform="rotate(21 820 268.3)" fill="#119649"/>
<path d="M19,-32.55L-8,-32.55A4.65,4.65 0 0 0 -8,-23.25L23,-23.25A4.65,4.65 0 0 1 23,-13.95L-21.5,-13.95A4.65,4.65 0 0 0 -21.5,-4.65L23,-4.65A4.65,4.65 0 0 1 23,4.65L-23.5,4.65A4.65,4.65 0 0 0 -23.5,13.95L23,13.95A4.65,4.65 0 0 1 23,23.25L-26,23.25A4.65,4.65 0 0 0 -26,32.55L3,32.55" transform="translate(821 266) rotate(22)" fill="none" stroke="#bcd53f" stroke-width="5.1" stroke-linecap="round" stroke-linejoin="round"/>
<path d="M1798.0,930.0C1795.8,929.3 1789.3,927.2 1784.9,925.7C1780.5,924.3 1776.1,922.8 1771.7,921.4C1767.3,919.9 1762.9,918.4 1758.5,916.9C1754.1,915.4 1749.7,913.9 1745.3,912.4C1740.9,910.9 1736.5,909.3 1732.1,907.8C1727.6,906.3 1723.2,904.7 1718.8,903.2C1714.3,901.7 1709.9,900.1 1705.5,898.6C1701.0,897.0 1696.6,895.5 1692.1,894.0C1687.7,892.4 1683.2,890.9 1678.7,889.4C1674.3,887.9 1669.8,886.3 1665.3,884.8C1660.9,883.3 1656.4,881.8 1651.9,880.3C1647.4,878.8 1642.9,877.4 1638.4,875.9C1633.9,874.4 1629.4,873.0 1624.9,871.6C1620.4,870.1 1615.9,868.7 1611.4,867.3C1606.9,866.0 1602.4,864.6 1597.8,863.2C1593.3,861.9 1588.8,860.6 1584.3,859.3C1579.7,858.0 1575.2,856.7 1570.6,855.5C1566.1,854.3 1561.5,853.0 1557.0,851.9C1552.4,850.7 1547.9,849.6 1543.3,848.4C1538.7,847.3 1534.2,846.3 1529.6,845.2C1525.0,844.2 1520.4,843.2 1515.9,842.2C1511.3,841.3 1506.7,840.4 1502.1,839.5C1497.5,838.6 1492.9,837.8 1488.3,837.0C1483.7,836.3 1479.1,835.5 1474.5,834.8C1469.9,834.2 1465.2,833.5 1460.6,833.0C1456.0,832.4 1451.4,831.9 1446.7,831.4C1442.1,830.9 1437.5,830.5 1432.8,830.1C1428.2,829.8 1423.5,829.5 1418.9,829.2C1414.2,829.0 1409.6,828.8 1404.9,828.7C1400.3,828.5 1395.6,828.5 1391.0,828.4C1386.3,828.4 1381.7,828.4 1377.0,828.5C1372.4,828.6 1367.7,828.7 1363.1,828.9C1358.4,829.1 1353.7,829.4 1349.1,829.7C1344.4,830.0 1339.8,830.3 1335.2,830.7C1330.5,831.1 1325.9,831.6 1321.3,832.1C1316.6,832.6 1312.0,833.2 1307.4,833.8C1302.7,834.4 1298.1,835.1 1293.5,835.8C1288.9,836.5 1284.3,837.3 1279.7,838.1C1275.1,838.9 1270.6,839.8 1266.0,840.7C1261.4,841.6 1256.9,842.6 1252.3,843.6C1247.7,844.6 1243.2,845.6 1238.7,846.7C1234.1,847.7 1229.6,848.8 1225.0,849.8C1220.5,850.8 1216.0,851.8 1211.4,852.7C1206.9,853.7 1202.3,854.6 1197.8,855.4C1193.2,856.2 1188.7,856.9 1184.1,857.5C1179.5,858.1 1174.9,858.7 1170.3,859.0C1165.7,859.3 1161.1,859.6 1156.4,859.6C1151.8,859.7 1147.1,859.5 1142.4,859.3C1137.8,859.0 1133.1,858.6 1128.4,858.0C1123.7,857.4 1119.0,856.7 1114.4,855.9C1109.7,855.0 1105.1,854.0 1100.4,852.9C1095.8,851.8 1091.2,850.5 1086.6,849.1C1082.0,847.7 1077.4,846.2 1072.9,844.6C1068.4,843.0 1063.9,841.2 1059.4,839.3C1055.0,837.5 1050.6,835.5 1046.3,833.4C1041.9,831.3 1037.6,829.1 1033.4,826.8C1029.2,824.5 1025.1,822.1 1021.0,819.6C1016.9,817.1 1012.9,814.5 1009.0,811.8C1005.0,809.2 1001.2,806.4 997.5,803.5C993.7,800.7 990.1,797.7 986.6,794.7C983.1,791.6 979.7,788.5 976.4,785.2C973.2,782.0 970.1,778.7 967.2,775.2C964.2,771.8 961.4,768.2 958.8,764.5C956.2,760.9 953.8,757.1 951.6,753.2C949.4,749.4 947.4,745.4 945.6,741.3C943.8,737.2 942.3,733.0 940.9,728.6C939.5,724.3 938.4,719.9 937.4,715.4C936.4,710.9 935.7,706.3 935.1,701.7C934.4,697.1 934.0,692.3 933.7,687.6C933.4,682.9 933.3,678.0 933.3,673.2C933.3,668.4 933.4,663.5 933.6,658.7C933.9,653.8 934.2,648.9 934.7,644.1C935.1,639.2 935.6,634.4 936.3,629.5C936.9,624.7 937.6,619.9 938.3,615.1C939.1,610.3 939.9,605.6 940.8,600.9C941.6,596.2 942.6,591.6 943.6,587.0C944.6,582.4 945.6,577.8 946.7,573.3C947.8,568.8 949.0,564.3 950.3,559.8C951.5,555.4 952.9,551.0 954.3,546.6C955.6,542.2 957.1,537.9 958.6,533.6C960.2,529.3 961.8,525.0 963.5,520.7C965.2,516.5 966.9,512.3 968.7,508.1C970.6,503.9 972.5,499.7 974.5,495.6C976.5,491.5 978.6,487.4 980.7,483.3C982.9,479.2 985.1,475.1 987.4,471.1C989.7,467.1 992.1,463.1 994.6,459.1C997.0,455.1 999.5,451.1 1002.0,447.2C1004.6,443.2 1007.2,439.3 1009.8,435.4C1012.4,431.4 1015.1,427.5 1017.8,423.6C1020.5,419.7 1023.3,415.8 1026.1,412.0C1028.8,408.1 1031.6,404.2 1034.4,400.4C1037.3,396.5 1040.1,392.7 1042.9,388.8C1045.8,385.0 1048.6,381.1 1051.5,377.3C1054.3,373.5 1057.2,369.6 1060.1,365.8C1063.0,362.1 1065.9,358.3 1068.9,354.7C1071.9,351.0 1075.0,347.4 1078.2,344.0C1081.4,340.6 1084.8,337.3 1088.2,334.2C1091.7,331.1 1095.3,328.1 1099.0,325.3C1102.6,322.5 1106.4,319.8 1110.3,317.4C1114.2,314.9 1118.2,312.6 1122.3,310.5C1126.4,308.4 1130.5,306.5 1134.8,304.7C1139.0,303.0 1143.3,301.5 1147.6,300.1C1152.0,298.8 1156.4,297.6 1160.9,296.7C1165.3,295.8 1169.8,295.1 1174.4,294.6C1178.9,294.1 1183.4,293.8 1188.0,293.8C1192.6,293.7 1197.2,293.9 1201.8,294.2C1206.4,294.5 1211.1,295.1 1215.7,295.8C1220.3,296.5 1224.9,297.5 1229.5,298.5C1234.1,299.6 1238.7,300.9 1243.3,302.3C1247.8,303.6 1252.4,305.2 1256.9,306.9C1261.4,308.6 1265.9,310.5 1270.3,312.4C1274.7,314.4 1279.1,316.5 1283.5,318.7C1287.8,321.0 1292.1,323.3 1296.3,325.7C1300.5,328.2 1304.7,330.7 1308.7,333.4C1312.8,336.0 1316.8,338.7 1320.7,341.5C1324.6,344.3 1328.4,347.2 1332.1,350.1C1335.9,353.1 1339.5,356.1 1343.0,359.1C1346.5,362.2 1350.0,365.3 1353.3,368.5C1356.6,371.7 1359.9,374.9 1363.0,378.2C1366.2,381.6 1369.2,384.9 1372.2,388.4C1375.2,391.8 1378.1,395.3 1381.0,398.8C1383.8,402.4 1386.5,406.0 1389.2,409.7C1391.9,413.4 1394.5,417.1 1397.1,421.0C1399.6,424.8 1402.1,428.7 1404.5,432.6C1406.9,436.5 1409.3,440.6 1411.6,444.6C1413.9,448.7 1416.2,452.8 1418.4,457.0C1420.7,461.1 1422.9,465.4 1425.1,469.6C1427.3,473.8 1429.5,478.0 1431.7,482.2C1433.9,486.4 1436.1,490.6 1438.4,494.8C1440.7,499.0 1442.9,503.2 1445.3,507.3C1447.6,511.4 1450.0,515.5 1452.5,519.5C1455.0,523.5 1457.5,527.4 1460.2,531.2C1462.8,535.1 1465.5,538.8 1468.4,542.5C1471.2,546.1 1474.2,549.7 1477.3,553.1C1480.4,556.5 1483.6,559.8 1487.0,563.0C1490.3,566.1 1493.8,569.1 1497.4,572.1C1501.0,575.0 1504.7,577.8 1508.5,580.6C1512.2,583.4 1516.0,586.1 1519.9,588.7C1523.7,591.4 1527.6,594.0 1531.5,596.6C1535.4,599.2 1539.3,601.8 1543.3,604.3C1547.2,606.9 1551.2,609.4 1555.1,611.9C1559.1,614.4 1563.1,616.9 1567.1,619.3C1571.1,621.8 1575.1,624.2 1579.2,626.6C1583.2,629.1 1587.2,631.5 1591.3,633.9C1595.3,636.3 1599.4,638.7 1603.4,641.1C1607.5,643.5 1611.6,645.8 1615.6,648.2C1619.7,650.6 1623.7,653.0 1627.8,655.4C1631.9,657.7 1635.9,660.1 1640.0,662.5C1644.0,664.9 1648.1,667.3 1652.1,669.7C1656.1,672.1 1660.1,674.6 1664.2,677.0C1668.2,679.4 1672.2,681.9 1676.1,684.4C1680.1,686.8 1684.1,689.3 1688.0,691.8C1692.0,694.3 1695.9,696.9 1699.8,699.4C1703.8,701.9 1707.7,704.5 1711.6,707.0C1715.5,709.5 1719.5,712.0 1723.4,714.5C1727.4,717.0 1731.3,719.5 1735.3,721.9C1739.3,724.3 1743.3,726.7 1747.3,729.0C1751.4,731.3 1755.4,733.6 1759.5,735.8C1763.7,738.0 1767.8,740.2 1772.0,742.2C1776.2,744.3 1780.5,746.3 1784.8,748.1C1789.2,750.0 1795.8,752.6 1798.0,753.5Z" fill="#0d8140"/>
<g clip-path="url(#cpost)"><path d="M930,696L965,690L1010,700C1013.2,700.9 1022.8,703.3 1029.1,705.4C1035.5,707.6 1041.8,710.2 1048.2,712.9C1054.5,715.6 1060.8,718.7 1067.2,721.6C1073.5,724.6 1079.8,727.8 1086.1,730.8C1092.4,733.8 1098.8,736.9 1105.1,739.6C1111.5,742.4 1117.8,745.1 1124.2,747.3C1130.5,749.5 1136.9,751.6 1143.3,753.0C1149.7,754.4 1156.2,755.5 1162.6,755.9C1169.1,756.3 1175.6,756.1 1182.1,755.5C1188.6,755.0 1195.2,753.8 1201.7,752.4C1208.3,751.1 1214.9,749.2 1221.5,747.3C1228.1,745.4 1234.7,743.2 1241.3,741.0C1248.0,738.8 1254.6,736.3 1261.3,734.1C1268.0,731.8 1274.6,729.5 1281.3,727.5C1288.0,725.4 1294.7,723.4 1301.3,721.8C1308.0,720.2 1314.7,718.8 1321.4,717.9C1328.1,716.9 1334.8,716.2 1341.4,715.9C1348.1,715.5 1354.8,715.5 1361.4,715.7C1368.1,715.9 1374.8,716.4 1381.4,717.1C1388.1,717.8 1394.8,718.7 1401.4,719.9C1408.0,721.0 1414.7,722.3 1421.3,723.8C1427.9,725.3 1434.6,727.0 1441.2,728.8C1447.8,730.6 1454.4,732.6 1461.0,734.6C1467.6,736.6 1474.1,738.8 1480.7,741.0C1487.2,743.2 1493.8,745.5 1500.3,747.8C1506.9,750.1 1513.4,752.5 1519.9,754.8C1526.4,757.2 1532.9,759.5 1539.3,761.9C1545.8,764.2 1552.2,766.5 1558.7,768.9C1565.1,771.2 1571.6,773.5 1578.0,775.9C1584.4,778.2 1590.8,780.5 1597.2,782.8C1603.6,785.2 1610.0,787.5 1616.4,789.8C1622.8,792.1 1629.2,794.4 1635.6,796.7C1642.0,799.0 1648.4,801.3 1654.8,803.5C1661.2,805.8 1667.5,808.1 1673.9,810.3C1680.3,812.6 1686.8,814.8 1693.2,817.1C1699.6,819.3 1706.0,821.5 1712.4,823.7C1718.9,826.0 1725.3,828.2 1731.8,830.4C1738.2,832.5 1744.7,834.7 1751.2,836.9C1757.6,839.1 1764.1,841.2 1770.7,843.4C1777.2,845.5 1783.7,847.6 1790.3,849.7C1796.8,851.8 1806.7,855.0 1810.0,856.0L1810,950L900,950Z" fill="#0c7940"/><path d="M1213.4,391.0C1214.0,382.0 1218.5,371.6 1223.5,367.0C1228.5,362.4 1233.6,361.1 1243.7,363.4C1253.8,365.7 1270.0,371.2 1284.0,380.8C1298.0,390.4 1314.8,406.5 1327.7,421.0C1340.6,435.5 1352.1,451.2 1361.3,468.0C1370.5,484.8 1387.5,515.2 1383.0,522.0C1378.5,528.8 1351.0,515.3 1334.5,508.6C1318.0,501.9 1299.1,491.8 1284.0,481.7C1268.9,471.6 1254.4,458.1 1243.7,448.0C1233.0,437.9 1225.0,430.5 1220.0,421.0C1215.0,411.5 1212.8,400.0 1213.4,391.0Z" fill="#0c7940"/></g>
<path d="M1798.0,930.0C1795.8,929.3 1789.3,927.2 1784.9,925.7C1780.5,924.3 1776.1,922.8 1771.7,921.4C1767.3,919.9 1762.9,918.4 1758.5,916.9C1754.1,915.4 1749.7,913.9 1745.3,912.4C1740.9,910.9 1736.5,909.3 1732.1,907.8C1727.6,906.3 1723.2,904.7 1718.8,903.2C1714.3,901.7 1709.9,900.1 1705.5,898.6C1701.0,897.0 1696.6,895.5 1692.1,894.0C1687.7,892.4 1683.2,890.9 1678.7,889.4C1674.3,887.9 1669.8,886.3 1665.3,884.8C1660.9,883.3 1656.4,881.8 1651.9,880.3C1647.4,878.8 1642.9,877.4 1638.4,875.9C1633.9,874.4 1629.4,873.0 1624.9,871.6C1620.4,870.1 1615.9,868.7 1611.4,867.3C1606.9,866.0 1602.4,864.6 1597.8,863.2C1593.3,861.9 1588.8,860.6 1584.3,859.3C1579.7,858.0 1575.2,856.7 1570.6,855.5C1566.1,854.3 1561.5,853.0 1557.0,851.9C1552.4,850.7 1547.9,849.6 1543.3,848.4C1538.7,847.3 1534.2,846.3 1529.6,845.2C1525.0,844.2 1520.4,843.2 1515.9,842.2C1511.3,841.3 1506.7,840.4 1502.1,839.5C1497.5,838.6 1492.9,837.8 1488.3,837.0C1483.7,836.3 1479.1,835.5 1474.5,834.8C1469.9,834.2 1465.2,833.5 1460.6,833.0C1456.0,832.4 1451.4,831.9 1446.7,831.4C1442.1,830.9 1437.5,830.5 1432.8,830.1C1428.2,829.8 1423.5,829.5 1418.9,829.2C1414.2,829.0 1409.6,828.8 1404.9,828.7C1400.3,828.5 1395.6,828.5 1391.0,828.4C1386.3,828.4 1381.7,828.4 1377.0,828.5C1372.4,828.6 1367.7,828.7 1363.1,828.9C1358.4,829.1 1353.7,829.4 1349.1,829.7C1344.4,830.0 1339.8,830.3 1335.2,830.7C1330.5,831.1 1325.9,831.6 1321.3,832.1C1316.6,832.6 1312.0,833.2 1307.4,833.8C1302.7,834.4 1298.1,835.1 1293.5,835.8C1288.9,836.5 1284.3,837.3 1279.7,838.1C1275.1,838.9 1270.6,839.8 1266.0,840.7C1261.4,841.6 1256.9,842.6 1252.3,843.6C1247.7,844.6 1243.2,845.6 1238.7,846.7C1234.1,847.7 1229.6,848.8 1225.0,849.8C1220.5,850.8 1216.0,851.8 1211.4,852.7C1206.9,853.7 1202.3,854.6 1197.8,855.4C1193.2,856.2 1188.7,856.9 1184.1,857.5C1179.5,858.1 1174.9,858.7 1170.3,859.0C1165.7,859.3 1161.1,859.6 1156.4,859.6C1151.8,859.7 1147.1,859.5 1142.4,859.3C1137.8,859.0 1133.1,858.6 1128.4,858.0C1123.7,857.4 1119.0,856.7 1114.4,855.9C1109.7,855.0 1105.1,854.0 1100.4,852.9C1095.8,851.8 1091.2,850.5 1086.6,849.1C1082.0,847.7 1077.4,846.2 1072.9,844.6C1068.4,843.0 1063.9,841.2 1059.4,839.3C1055.0,837.5 1050.6,835.5 1046.3,833.4C1041.9,831.3 1037.6,829.1 1033.4,826.8C1029.2,824.5 1025.1,822.1 1021.0,819.6C1016.9,817.1 1012.9,814.5 1009.0,811.8C1005.0,809.2 1001.2,806.4 997.5,803.5C993.7,800.7 990.1,797.7 986.6,794.7C983.1,791.6 979.7,788.5 976.4,785.2C973.2,782.0 970.1,778.7 967.2,775.2C964.2,771.8 961.4,768.2 958.8,764.5C956.2,760.9 953.8,757.1 951.6,753.2C949.4,749.4 947.4,745.4 945.6,741.3C943.8,737.2 942.3,733.0 940.9,728.6C939.5,724.3 938.4,719.9 937.4,715.4C936.4,710.9 935.7,706.3 935.1,701.7C934.4,697.1 934.0,692.3 933.7,687.6C933.4,682.9 933.3,678.0 933.3,673.2C933.3,668.4 933.4,663.5 933.6,658.7C933.9,653.8 934.2,648.9 934.7,644.1C935.1,639.2 935.6,634.4 936.3,629.5C936.9,624.7 937.6,619.9 938.3,615.1C939.1,610.3 939.9,605.6 940.8,600.9C941.6,596.2 942.6,591.6 943.6,587.0C944.6,582.4 945.6,577.8 946.7,573.3C947.8,568.8 949.0,564.3 950.3,559.8C951.5,555.4 952.9,551.0 954.3,546.6C955.6,542.2 957.1,537.9 958.6,533.6C960.2,529.3 961.8,525.0 963.5,520.7C965.2,516.5 966.9,512.3 968.7,508.1C970.6,503.9 972.5,499.7 974.5,495.6C976.5,491.5 978.6,487.4 980.7,483.3C982.9,479.2 985.1,475.1 987.4,471.1C989.7,467.1 992.1,463.1 994.6,459.1C997.0,455.1 999.5,451.1 1002.0,447.2C1004.6,443.2 1007.2,439.3 1009.8,435.4C1012.4,431.4 1015.1,427.5 1017.8,423.6C1020.5,419.7 1023.3,415.8 1026.1,412.0C1028.8,408.1 1031.6,404.2 1034.4,400.4C1037.3,396.5 1040.1,392.7 1042.9,388.8C1045.8,385.0 1048.6,381.1 1051.5,377.3C1054.3,373.5 1057.2,369.6 1060.1,365.8C1063.0,362.1 1065.9,358.3 1068.9,354.7C1071.9,351.0 1075.0,347.4 1078.2,344.0C1081.4,340.6 1084.8,337.3 1088.2,334.2C1091.7,331.1 1095.3,328.1 1099.0,325.3C1102.6,322.5 1106.4,319.8 1110.3,317.4C1114.2,314.9 1118.2,312.6 1122.3,310.5C1126.4,308.4 1130.5,306.5 1134.8,304.7C1139.0,303.0 1143.3,301.5 1147.6,300.1C1152.0,298.8 1156.4,297.6 1160.9,296.7C1165.3,295.8 1169.8,295.1 1174.4,294.6C1178.9,294.1 1183.4,293.8 1188.0,293.8C1192.6,293.7 1197.2,293.9 1201.8,294.2C1206.4,294.5 1211.1,295.1 1215.7,295.8C1220.3,296.5 1224.9,297.5 1229.5,298.5C1234.1,299.6 1238.7,300.9 1243.3,302.3C1247.8,303.6 1252.4,305.2 1256.9,306.9C1261.4,308.6 1265.9,310.5 1270.3,312.4C1274.7,314.4 1279.1,316.5 1283.5,318.7C1287.8,321.0 1292.1,323.3 1296.3,325.7C1300.5,328.2 1304.7,330.7 1308.7,333.4C1312.8,336.0 1316.8,338.7 1320.7,341.5C1324.6,344.3 1328.4,347.2 1332.1,350.1C1335.9,353.1 1339.5,356.1 1343.0,359.1C1346.5,362.2 1350.0,365.3 1353.3,368.5C1356.6,371.7 1359.9,374.9 1363.0,378.2C1366.2,381.6 1369.2,384.9 1372.2,388.4C1375.2,391.8 1378.1,395.3 1381.0,398.8C1383.8,402.4 1386.5,406.0 1389.2,409.7C1391.9,413.4 1394.5,417.1 1397.1,421.0C1399.6,424.8 1402.1,428.7 1404.5,432.6C1406.9,436.5 1409.3,440.6 1411.6,444.6C1413.9,448.7 1416.2,452.8 1418.4,457.0C1420.7,461.1 1422.9,465.4 1425.1,469.6C1427.3,473.8 1429.5,478.0 1431.7,482.2C1433.9,486.4 1436.1,490.6 1438.4,494.8C1440.7,499.0 1442.9,503.2 1445.3,507.3C1447.6,511.4 1450.0,515.5 1452.5,519.5C1455.0,523.5 1457.5,527.4 1460.2,531.2C1462.8,535.1 1465.5,538.8 1468.4,542.5C1471.2,546.1 1474.2,549.7 1477.3,553.1C1480.4,556.5 1483.6,559.8 1487.0,563.0C1490.3,566.1 1493.8,569.1 1497.4,572.1C1501.0,575.0 1504.7,577.8 1508.5,580.6C1512.2,583.4 1516.0,586.1 1519.9,588.7C1523.7,591.4 1527.6,594.0 1531.5,596.6C1535.4,599.2 1539.3,601.8 1543.3,604.3C1547.2,606.9 1551.2,609.4 1555.1,611.9C1559.1,614.4 1563.1,616.9 1567.1,619.3C1571.1,621.8 1575.1,624.2 1579.2,626.6C1583.2,629.1 1587.2,631.5 1591.3,633.9C1595.3,636.3 1599.4,638.7 1603.4,641.1C1607.5,643.5 1611.6,645.8 1615.6,648.2C1619.7,650.6 1623.7,653.0 1627.8,655.4C1631.9,657.7 1635.9,660.1 1640.0,662.5C1644.0,664.9 1648.1,667.3 1652.1,669.7C1656.1,672.1 1660.1,674.6 1664.2,677.0C1668.2,679.4 1672.2,681.9 1676.1,684.4C1680.1,686.8 1684.1,689.3 1688.0,691.8C1692.0,694.3 1695.9,696.9 1699.8,699.4C1703.8,701.9 1707.7,704.5 1711.6,707.0C1715.5,709.5 1719.5,712.0 1723.4,714.5C1727.4,717.0 1731.3,719.5 1735.3,721.9C1739.3,724.3 1743.3,726.7 1747.3,729.0C1751.4,731.3 1755.4,733.6 1759.5,735.8C1763.7,738.0 1767.8,740.2 1772.0,742.2C1776.2,744.3 1780.5,746.3 1784.8,748.1C1789.2,750.0 1795.8,752.6 1798.0,753.5Z" fill="none" stroke="#2b5a26" stroke-width="3.1" stroke-linejoin="miter"/>
<path d="M1147.3,335.3C1150.9,335.7 1154.6,336.7 1158.0,338.1C1161.5,339.5 1164.8,341.5 1167.9,343.7C1171.1,346.0 1174.0,348.7 1176.7,351.5C1179.3,354.4 1181.8,357.6 1183.8,361.0C1185.8,364.3 1187.5,367.8 1188.9,371.5C1190.2,375.1 1191.1,378.8 1191.8,382.6C1192.5,386.4 1192.8,390.3 1192.9,394.3C1193.1,398.2 1192.9,402.3 1192.6,406.3C1192.3,410.3 1191.8,414.5 1191.2,418.6C1190.6,422.7 1189.8,426.8 1189.0,430.9C1188.2,435.0 1187.3,439.1 1186.4,443.2C1185.4,447.2 1184.5,451.3 1183.5,455.3C1182.5,459.3 1181.5,463.3 1180.5,467.3C1179.4,471.3 1178.3,475.2 1177.2,479.1C1176.1,483.1 1175.0,486.9 1173.8,490.8C1172.6,494.7 1171.4,498.6 1170.2,502.4C1168.9,506.2 1167.7,510.0 1166.4,513.8C1165.1,517.6 1163.7,521.3 1162.4,525.1C1161.0,528.8 1159.6,532.5 1158.2,536.2C1156.8,539.9 1155.3,543.6 1153.8,547.2C1152.3,550.9 1150.8,554.5 1149.3,558.1C1147.7,561.7 1146.1,565.3 1144.5,568.9C1142.9,572.5 1141.2,576.0 1139.6,579.6C1137.9,583.1 1136.2,586.6 1134.4,590.1C1132.7,593.6 1130.9,597.1 1129.1,600.6C1127.3,604.1 1125.4,607.5 1123.5,611.0C1121.6,614.4 1119.7,617.9 1117.7,621.3C1115.7,624.7 1113.7,628.2 1111.7,631.6C1109.6,635.0 1107.5,638.4 1105.4,641.8C1103.2,645.2 1101.0,648.6 1098.8,652.0C1096.6,655.4 1094.3,658.8 1092.0,662.2C1089.6,665.6 1087.3,669.0 1084.9,672.4C1082.4,675.8 1080.0,679.2 1077.4,682.6C1074.9,686.0 1072.4,689.4 1069.7,692.7C1067.1,696.0 1064.4,699.3 1061.6,702.5C1058.8,705.7 1056.0,708.8 1053.1,711.7C1050.2,714.7 1047.2,717.5 1044.1,720.1C1041.0,722.7 1037.8,725.2 1034.5,727.4C1031.2,729.6 1027.8,731.7 1024.3,733.4C1020.8,735.1 1017.1,736.6 1013.4,737.7C1009.7,738.8 1005.8,739.7 1002.1,740.1C998.3,740.4 994.4,740.5 990.9,740.0C987.4,739.4 983.9,738.4 980.9,736.8C977.8,735.2 975.1,732.8 972.6,730.2C970.2,727.5 968.1,724.3 966.2,720.8C964.3,717.4 962.7,713.5 961.3,709.7C959.9,705.8 958.8,701.7 957.8,697.7C956.8,693.7 956.0,689.7 955.3,685.6C954.7,681.6 954.2,677.6 953.9,673.6C953.6,669.5 953.4,665.5 953.4,661.5C953.4,657.5 953.6,653.5 953.8,649.5C954.1,645.5 954.5,641.5 955.0,637.5C955.5,633.5 956.1,629.5 956.8,625.6C957.6,621.6 958.4,617.6 959.3,613.7C960.2,609.8 961.3,605.8 962.4,601.9C963.4,598.0 964.6,594.1 965.8,590.2C967.1,586.3 968.4,582.4 969.7,578.6C971.0,574.7 972.4,570.9 973.8,567.1C975.3,563.3 976.7,559.5 978.2,555.7C979.7,551.9 981.2,548.2 982.8,544.5C984.3,540.7 985.9,537.0 987.5,533.3C989.1,529.6 990.7,526.0 992.3,522.3C994.0,518.6 995.6,515.0 997.3,511.4C999.0,507.8 1000.7,504.2 1002.5,500.6C1004.2,497.0 1006.0,493.4 1007.7,489.8C1009.5,486.3 1011.3,482.7 1013.1,479.2C1015.0,475.7 1016.8,472.2 1018.7,468.7C1020.5,465.2 1022.4,461.7 1024.3,458.2C1026.2,454.7 1028.1,451.3 1030.1,447.8C1032.0,444.3 1034.0,440.9 1035.9,437.5C1037.9,434.0 1039.9,430.6 1041.9,427.2C1043.9,423.8 1045.9,420.4 1048.0,417.0C1050.0,413.6 1052.1,410.2 1054.2,406.9C1056.3,403.5 1058.5,400.2 1060.7,396.9C1063.0,393.6 1065.3,390.3 1067.8,387.1C1070.2,383.9 1072.7,380.7 1075.4,377.6C1078.0,374.5 1080.8,371.4 1083.7,368.4C1086.6,365.4 1089.7,362.4 1092.9,359.6C1096.1,356.7 1099.5,353.9 1103.0,351.4C1106.5,348.8 1110.1,346.3 1113.7,344.3C1117.4,342.2 1121.1,340.3 1124.9,338.9C1128.6,337.4 1132.4,336.3 1136.1,335.7C1139.9,335.1 1143.6,334.9 1147.3,335.3Z" fill="#095329"/>
<path d="M1137.4,364.4C1141.3,364.6 1145.6,365.2 1149.4,366.4C1153.1,367.7 1157.0,369.5 1160.1,371.8C1163.2,374.1 1165.9,377.1 1168.1,380.3C1170.2,383.5 1171.9,387.3 1173.2,391.0C1174.5,394.6 1175.3,398.5 1175.9,402.4C1176.4,406.3 1176.6,410.3 1176.6,414.3C1176.5,418.3 1176.2,422.4 1175.7,426.6C1175.2,430.7 1174.5,434.8 1173.7,439.0C1173.0,443.1 1172.0,447.3 1171.1,451.4C1170.2,455.5 1169.3,459.6 1168.3,463.7C1167.3,467.8 1166.3,471.8 1165.2,475.8C1164.2,479.8 1163.1,483.8 1162.0,487.8C1160.9,491.8 1159.7,495.7 1158.5,499.6C1157.3,503.5 1156.1,507.4 1154.9,511.3C1153.6,515.1 1152.3,518.9 1151.0,522.7C1149.6,526.6 1148.3,530.3 1146.8,534.1C1145.4,537.8 1144.0,541.6 1142.5,545.3C1141.0,549.0 1139.4,552.6 1137.8,556.3C1136.2,559.9 1134.6,563.5 1132.9,567.1C1131.2,570.7 1129.5,574.3 1127.7,577.9C1126.0,581.4 1124.1,584.9 1122.3,588.4C1120.4,591.9 1118.5,595.4 1116.5,598.9C1114.5,602.3 1112.5,605.8 1110.4,609.2C1108.4,612.6 1106.2,616.0 1104.0,619.4C1101.9,622.7 1099.6,626.1 1097.3,629.4C1095.0,632.8 1092.7,636.1 1090.3,639.4C1087.9,642.7 1085.4,646.0 1082.9,649.3C1080.4,652.6 1077.8,655.8 1075.2,659.1C1072.5,662.4 1069.9,665.6 1067.1,668.8C1064.3,672.0 1061.5,675.3 1058.6,678.5C1055.8,681.7 1052.8,684.9 1049.8,688.0C1046.8,691.1 1043.7,694.1 1040.6,696.9C1037.4,699.7 1034.2,702.4 1030.9,704.6C1027.6,706.9 1024.2,708.9 1020.7,710.5C1017.3,712.0 1013.7,713.3 1010.1,713.9C1006.6,714.5 1002.9,714.6 999.6,713.9C996.3,713.1 993.2,711.5 990.4,709.4C987.6,707.3 985.0,704.4 982.8,701.3C980.6,698.2 978.6,694.5 976.9,690.8C975.3,687.1 973.9,683.2 972.8,679.2C971.7,675.2 970.8,671.1 970.2,667.0C969.6,662.9 969.2,658.6 969.0,654.4C968.8,650.2 968.7,645.9 968.9,641.7C969.0,637.5 969.2,633.3 969.6,629.1C970.0,625.0 970.5,620.8 971.1,616.8C971.7,612.7 972.5,608.6 973.3,604.6C974.1,600.6 975.0,596.7 976.1,592.8C977.1,588.8 978.2,584.9 979.4,581.1C980.6,577.2 981.8,573.4 983.2,569.6C984.5,565.8 985.9,562.0 987.4,558.3C988.8,554.5 990.4,550.8 991.9,547.1C993.5,543.4 995.1,539.8 996.8,536.1C998.4,532.5 1000.1,528.9 1001.9,525.3C1003.6,521.7 1005.3,518.1 1007.1,514.5C1008.9,511.0 1010.7,507.4 1012.5,503.9C1014.3,500.4 1016.2,496.9 1018.1,493.4C1020.0,489.9 1021.9,486.4 1023.8,483.0C1025.8,479.5 1027.7,476.0 1029.8,472.6C1031.8,469.1 1033.8,465.7 1035.9,462.3C1038.0,458.8 1040.2,455.4 1042.4,452.0C1044.5,448.6 1046.8,445.2 1049.0,441.8C1051.3,438.3 1053.6,434.9 1056.0,431.5C1058.4,428.1 1060.8,424.7 1063.2,421.3C1065.7,417.9 1068.2,414.4 1070.8,411.0C1073.4,407.6 1076.0,404.2 1078.8,400.9C1081.5,397.5 1084.2,394.2 1087.1,391.1C1090.0,388.0 1092.9,385.0 1095.9,382.3C1099.0,379.5 1102.1,377.0 1105.3,374.7C1108.5,372.5 1111.9,370.5 1115.3,369.0C1118.7,367.4 1122.3,366.1 1126.0,365.4C1129.7,364.6 1133.5,364.2 1137.4,364.4Z" fill="#109b49"/>
<ellipse cx="1110.2" cy="389.2" rx="14.6" ry="20" transform="rotate(20 1110.2 389.2)" fill="#0a5e2f"/>
<ellipse cx="1107.8" cy="387" rx="14.6" ry="20" transform="rotate(20 1107.8 387)" fill="#0c7a40"/>
<ellipse cx="1162.1000000000001" cy="390.7" rx="14.6" ry="20" transform="rotate(20 1162.1000000000001 390.7)" fill="#0a5e2f"/>
<ellipse cx="1159.7" cy="388.5" rx="14.6" ry="20" transform="rotate(20 1159.7 388.5)" fill="#0c7a40"/>
<ellipse cx="1104.3000000000002" cy="449.5" rx="14.6" ry="20" transform="rotate(20 1104.3000000000002 449.5)" fill="#0a5e2f"/>
<ellipse cx="1101.9" cy="447.3" rx="14.6" ry="20" transform="rotate(20 1101.9 447.3)" fill="#0c7a40"/>
<ellipse cx="1156.8000000000002" cy="467.2" rx="14.6" ry="20" transform="rotate(20 1156.8000000000002 467.2)" fill="#0a5e2f"/>
<ellipse cx="1154.4" cy="465" rx="14.6" ry="20" transform="rotate(20 1154.4 465)" fill="#0c7a40"/>
<ellipse cx="1050.8000000000002" cy="457.2" rx="14.6" ry="20" transform="rotate(20 1050.8000000000002 457.2)" fill="#0a5e2f"/>
<ellipse cx="1048.4" cy="455" rx="14.6" ry="20" transform="rotate(20 1048.4 455)" fill="#0c7a40"/>
<ellipse cx="1115.4" cy="525.2" rx="14.6" ry="20" transform="rotate(20 1115.4 525.2)" fill="#0a5e2f"/>
<ellipse cx="1113" cy="523" rx="14.6" ry="20" transform="rotate(20 1113 523)" fill="#0c7a40"/>
<ellipse cx="1046.4" cy="512.2" rx="14.6" ry="20" transform="rotate(20 1046.4 512.2)" fill="#0a5e2f"/>
<ellipse cx="1044" cy="510" rx="14.6" ry="20" transform="rotate(20 1044 510)" fill="#0c7a40"/>
<ellipse cx="1074.4" cy="575.2" rx="14.6" ry="20" transform="rotate(20 1074.4 575.2)" fill="#0a5e2f"/>
<ellipse cx="1072" cy="573" rx="14.6" ry="20" transform="rotate(20 1072 573)" fill="#0c7a40"/>
<ellipse cx="1000.1999999999999" cy="555.7" rx="14.6" ry="20" transform="rotate(20 1000.1999999999999 555.7)" fill="#0a5e2f"/>
<ellipse cx="997.8" cy="553.5" rx="14.6" ry="20" transform="rotate(20 997.8 553.5)" fill="#0c7a40"/>
<ellipse cx="1092.4" cy="625.9000000000001" rx="14.6" ry="20" transform="rotate(20 1092.4 625.9000000000001)" fill="#0a5e2f"/>
<ellipse cx="1090" cy="623.7" rx="14.6" ry="20" transform="rotate(20 1090 623.7)" fill="#0c7a40"/>
<ellipse cx="1013.0" cy="606.9000000000001" rx="14.6" ry="20" transform="rotate(20 1013.0 606.9000000000001)" fill="#0a5e2f"/>
<ellipse cx="1010.6" cy="604.7" rx="14.6" ry="20" transform="rotate(20 1010.6 604.7)" fill="#0c7a40"/>
<ellipse cx="1042.4" cy="659.7" rx="14.6" ry="20" transform="rotate(20 1042.4 659.7)" fill="#0a5e2f"/>
<ellipse cx="1040" cy="657.5" rx="14.6" ry="20" transform="rotate(20 1040 657.5)" fill="#0c7a40"/>
<ellipse cx="978.1999999999999" cy="660.7" rx="14.6" ry="20" transform="rotate(20 978.1999999999999 660.7)" fill="#0a5e2f"/>
<ellipse cx="975.8" cy="658.5" rx="14.6" ry="20" transform="rotate(20 975.8 658.5)" fill="#0c7a40"/>
<ellipse cx="1018.1" cy="709.2" rx="14.6" ry="20" transform="rotate(20 1018.1 709.2)" fill="#0a5e2f"/>
<ellipse cx="1015.7" cy="707" rx="14.6" ry="20" transform="rotate(20 1015.7 707)" fill="#0c7a40"/>
<g fill="#15984c" opacity="0.85"><path d="M1231,561C1245,567 1262,574 1261.5,586C1261,597 1240,594 1219.5,577C1238,590 1256.5,594 1257.5,586.5C1258,577 1244,568 1231,561Z"/><path d="M1206.6,637C1215,622 1230,606 1238,607C1246,609 1236,628 1225,646C1233,628 1241,612 1236.5,610.5C1230,610 1216,624 1206.6,637Z"/><path d="M1288.6,647.6C1282,633 1276,615 1284.5,613.5C1293,613 1300,630 1304,642.5C1298,631 1291,616.5 1285.5,616.5C1280,617 1284,634 1288.6,647.6Z"/></g>
<polygon points="936.6,23.3 963.0,33.1 967.7,60.9 946.0,78.9 919.6,69.1 914.9,41.3" fill="#3bb54a"/>
<polygon points="996.0,69.5 1022.4,79.3 1027.1,107.1 1005.4,125.1 979.0,115.3 974.3,87.5" fill="#3bb54a"/>
<polygon points="861.1,100.0 887.5,109.8 892.2,137.6 870.5,155.6 844.1,145.8 839.4,118.0" fill="#3bb54a"/>
<polygon points="927.0,118.3 953.4,128.1 958.1,155.9 936.4,173.9 910.0,164.1 905.3,136.3" fill="#3bb54a"/>
<polygon points="913.6,187.0 940.0,196.8 944.7,224.6 923.0,242.6 896.6,232.8 891.9,205.0" fill="#3bb54a"/>
<polygon points="935.2,766.0 953.8,772.9 957.1,792.4 941.8,805.0 923.2,798.1 919.9,778.6" fill="none" stroke="#3fbb7c" stroke-width="4.6" stroke-linejoin="miter"/>
<polygon points="985.1,787.3 1003.7,794.2 1007.0,813.7 991.7,826.3 973.1,819.4 969.8,799.9" fill="none" stroke="#3fbb7c" stroke-width="4.6" stroke-linejoin="miter"/>
<polygon points="1059.7,798.1 1078.3,805.0 1081.6,824.5 1066.3,837.1 1047.7,830.2 1044.4,810.7" fill="none" stroke="#3fbb7c" stroke-width="4.6" stroke-linejoin="miter"/>
<polygon points="1109.7,756.5 1128.3,763.4 1131.6,782.9 1116.3,795.5 1097.7,788.6 1094.4,769.1" fill="none" stroke="#3fbb7c" stroke-width="4.6" stroke-linejoin="miter"/>
<polygon points="1010.7,835.5 1029.3,842.4 1032.6,861.9 1017.3,874.5 998.7,867.6 995.4,848.1" fill="none" stroke="#3fbb7c" stroke-width="4.6" stroke-linejoin="miter"/>
<circle cx="1060.3" cy="357" r="16.2" fill="#b5d43c"/>
<circle cx="1014.4" cy="401.2" r="15.5" fill="#b5d43c"/>
<circle cx="960" cy="439.4" r="13" fill="#b5d43c"/>
<circle cx="1066.3" cy="453.6" r="14.8" fill="#b5d43c"/>
<circle cx="983" cy="504" r="14.8" fill="#b5d43c"/>
<circle cx="1044" cy="531.5" r="15.3" fill="#b5d43c"/>
<circle cx="912.8" cy="554" r="14" fill="#b5d43c"/>
<circle cx="952.8" cy="590.4" r="15" fill="#b5d43c"/>
<circle cx="992.6" cy="617.5" r="14.8" fill="#b5d43c"/>
<circle cx="892.3" cy="677.6" r="19.3" fill="#b5d43c"/>
<g fill="none" stroke="#fff" stroke-width="1.6"><path d="M1005.5,118.6L1073.5,101.2H1236.5"/><path d="M870,286.8L1038.3,203.5H1236.5"/><path d="M1165.2,381L1261.5,277.5H1335.5"/><path d="M1251,571.8L1359.5,348.3H1408.5"/><path d="M884.6,687L817.3,747.7H641.7"/><path d="M975.4,817L928.3,840.7H817.3"/></g>
<circle cx="1005.5" cy="118.6" r="3.3" fill="#fff"/>
<circle cx="870" cy="286.8" r="3.3" fill="#fff"/>
<circle cx="1165.2" cy="381" r="3.3" fill="#fff"/>
<circle cx="1251" cy="571.8" r="3.3" fill="#fff"/>
<circle cx="884.6" cy="687" r="3.3" fill="#fff"/>
<circle cx="975.4" cy="817" r="3.3" fill="#fff"/>
<g transform="translate(1311.1,104.3)" fill="#5fbb46"><path d="M0,0 C-2.7,-4.4 -2.97,-11.9 0,-19.8 C2.97,-11.9 2.7,-4.4 0,0Z" transform="rotate(0)"/><path d="M0,0 C-2.5,-4.0 -2.75,-10.8 0,-18 C2.75,-10.8 2.5,-4.0 0,0Z" transform="rotate(-47)"/><path d="M0,0 C-2.5,-4.0 -2.75,-10.8 0,-18 C2.75,-10.8 2.5,-4.0 0,0Z" transform="rotate(47)"/><path d="M0,0 C-1.9,-2.9 -2.09,-7.9 0,-13.2 C2.09,-7.9 1.9,-2.9 0,0Z" transform="rotate(-92)"/><path d="M0,0 C-1.9,-2.9 -2.09,-7.9 0,-13.2 C2.09,-7.9 1.9,-2.9 0,0Z" transform="rotate(92)"/><path d="M0,0 C-1.1,-1.7 -1.21,-4.7 0,-7.9 C1.21,-4.7 1.1,-1.7 0,0Z" transform="rotate(-138)"/><path d="M0,0 C-1.1,-1.7 -1.21,-4.7 0,-7.9 C1.21,-4.7 1.1,-1.7 0,0Z" transform="rotate(138)"/><rect x="-0.5" y="0" width="1" height="5.8"/></g>
<text x="405.97" y="115.02" font-size="22.8" textLength="162.85" lengthAdjust="spacingAndGlyphs" stroke="#fff" stroke-width="1.15" stroke-linejoin="round">PRESYNAPTIC</text>
<text x="405.40" y="126.00" font-size="9.2" textLength="82.00" lengthAdjust="spacingAndGlyphs" stroke="#fff" stroke-width="0.4" stroke-linejoin="round">(SENDING NEURON)</text>
<text x="1242.98" y="110.42" font-size="23.4" textLength="46.85" lengthAdjust="spacingAndGlyphs" stroke="#fff" stroke-width="1.15" stroke-linejoin="round">THC</text>
<text x="1246.88" y="200.33" font-size="23.4" textLength="171.55" lengthAdjust="spacingAndGlyphs" stroke="#fff" stroke-width="1.15" stroke-linejoin="round">CANNABINOID</text>
<text x="1246.88" y="224.72" font-size="23.4" textLength="122.55" lengthAdjust="spacingAndGlyphs" stroke="#fff" stroke-width="1.15" stroke-linejoin="round">RECEPTOR</text>
<text x="1341.38" y="286.83" font-size="23.4" textLength="136.55" lengthAdjust="spacingAndGlyphs" stroke="#fff" stroke-width="1.15" stroke-linejoin="round">RECEPTORS</text>
<text x="1411.58" y="358.53" font-size="22.9" textLength="224.45" lengthAdjust="spacingAndGlyphs" stroke="#fff" stroke-width="1.15" stroke-linejoin="round">LIPID PRECURSORS</text>
<text x="1411.20" y="368.60" font-size="9.2" textLength="49.10" lengthAdjust="spacingAndGlyphs" stroke="#fff" stroke-width="0.4" stroke-linejoin="round">(FAT CELLS)</text>
<text x="362.57" y="759.82" font-size="23.4" textLength="267.55" lengthAdjust="spacingAndGlyphs" stroke="#fff" stroke-width="1.15" stroke-linejoin="round">NEUROTRANSMITTERS</text>
<text x="621.58" y="850.52" font-size="23.4" textLength="185.55" lengthAdjust="spacingAndGlyphs" stroke="#fff" stroke-width="1.15" stroke-linejoin="round">CANNABINOIDS</text>
<text x="1312.08" y="881.52" font-size="22.8" textLength="181.15" lengthAdjust="spacingAndGlyphs" stroke="#fff" stroke-width="1.15" stroke-linejoin="round">POSTSYNAPTIC</text>
<text x="1311.70" y="893.90" font-size="9.2" textLength="89.10" lengthAdjust="spacingAndGlyphs" stroke="#fff" stroke-width="0.4" stroke-linejoin="round">(RECEIVING NEURON)</text>
</svg></body></html>
